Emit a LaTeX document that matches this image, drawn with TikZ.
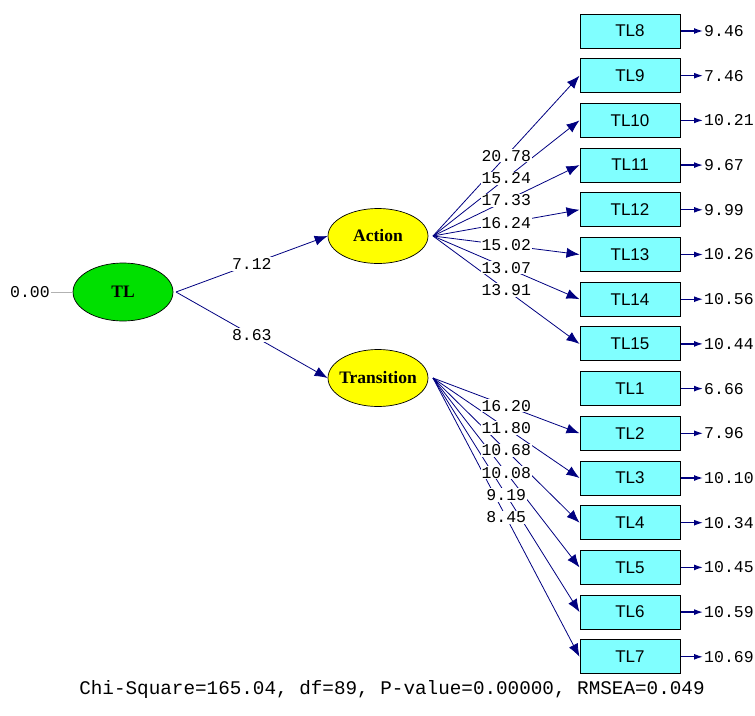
\documentclass[tikz,border=0pt]{standalone}
\usepackage{fontspec}
\setmainfont{Liberation Serif}
\setsansfont{Liberation Sans}
\setmonofont{Liberation Mono}
\usetikzlibrary{shapes.geometric,arrows.meta}
\definecolor{lisnavy}{HTML}{000080}
\definecolor{lisgreen}{HTML}{00E000}
\definecolor{lisyellow}{HTML}{FFFF00}
\definecolor{liscyan}{HTML}{80FFFF}

\begin{document}
\begin{tikzpicture}[x=1pt,y=-1pt,
    latent/.style={ellipse,draw,line width=0.7pt,minimum width=100pt,minimum height=55pt,inner xsep=-10pt,inner ysep=0pt,font=\fontsize{17.5}{20}\selectfont\bfseries},
    indic/.style={draw,line width=1pt,fill=liscyan,minimum width=100pt,minimum height=34pt,inner sep=0pt,font=\sffamily\fontsize{17}{19}\selectfont},
    load/.style={draw=lisnavy,line width=0.8pt,-{Latex[length=13pt,width=10pt]}},
    errarr/.style={draw=lisnavy,line width=1.3pt,-{Latex[length=9pt,width=6pt]}},
    tval/.style={fill=white,inner sep=1pt,font=\ttfamily\fontsize{16.5}{18}\selectfont},
    errval/.style={anchor=west,inner sep=1pt,font=\ttfamily\fontsize{16.5}{18}\selectfont},
  ]
  \useasboundingbox (0,0) rectangle (755,715);

  % latent variables
  \node[latent,fill=lisgreen,minimum height=58pt] (tl) at (123,292) {TL};
  \node[latent,fill=lisyellow] (act) at (378,236) {Action};
  \node[latent,fill=lisyellow,minimum height=57pt] (trans) at (378,378) {Transition};
  \coordinate (actout) at (433,236);
  \coordinate (transout) at (433,378);
  \coordinate (tlout) at (176,292);

  % observed indicators with error terms
  \foreach \nm/\k/\err in {8/0/9.46, 9/1/7.46, 10/2/10.21, 11/3/9.67, 12/4/9.99,
      13/5/10.26, 14/6/10.56, 15/7/10.44, 1/8/6.66, 2/9/7.96, 3/10/10.10,
      4/11/10.34, 5/12/10.45, 6/13/10.59, 7/14/10.69} {
    \node[indic] (tl\nm) at (630,31+44.7*\k) {TL\nm};
    \coordinate (e\nm) at (703,31+44.7*\k);
    \draw[errarr] (tl\nm.east) -- (e\nm);
    \node[errval] (v\nm) at (e\nm) {\err};
  }

  % second order paths
  \node[errval,anchor=east] (v0) at (51,292) {0.00};
  \draw[gray!60,line width=0.8pt] (v0) -- (tl.west);
  \draw[load] (tlout) -- (act.west) node[tval,pos=.5] {7.12};
  \draw[load] (tlout) -- (trans.west) node[tval,pos=.5] {8.63};

  % loadings: lines first, values on top
  \foreach \nm in {9,...,15} \draw[load] (actout) -- (tl\nm.west);
  \foreach \nm in {2,...,7} \draw[load] (transout) -- (tl\nm.west);
  \foreach \nm/\t in {9/20.78, 10/15.24, 11/17.33, 12/16.24, 13/15.02, 14/13.07, 15/13.91}
    \path (actout) -- (tl\nm.west) node[tval,pos=.5] {\t};
  \foreach \nm/\t in {2/16.20, 3/11.80, 4/10.68, 5/10.08, 6/9.19, 7/8.45}
    \path (transout) -- (tl\nm.west) node[tval,pos=.5] {\t};

  % fit statistics
  \node[font=\ttfamily\fontsize{19.3}{21}\selectfont] (fit) at (392,690)
    {Chi-Square=165.04, df=89, P-value=0.00000, RMSEA=0.049};
\end{tikzpicture}
\end{document}
